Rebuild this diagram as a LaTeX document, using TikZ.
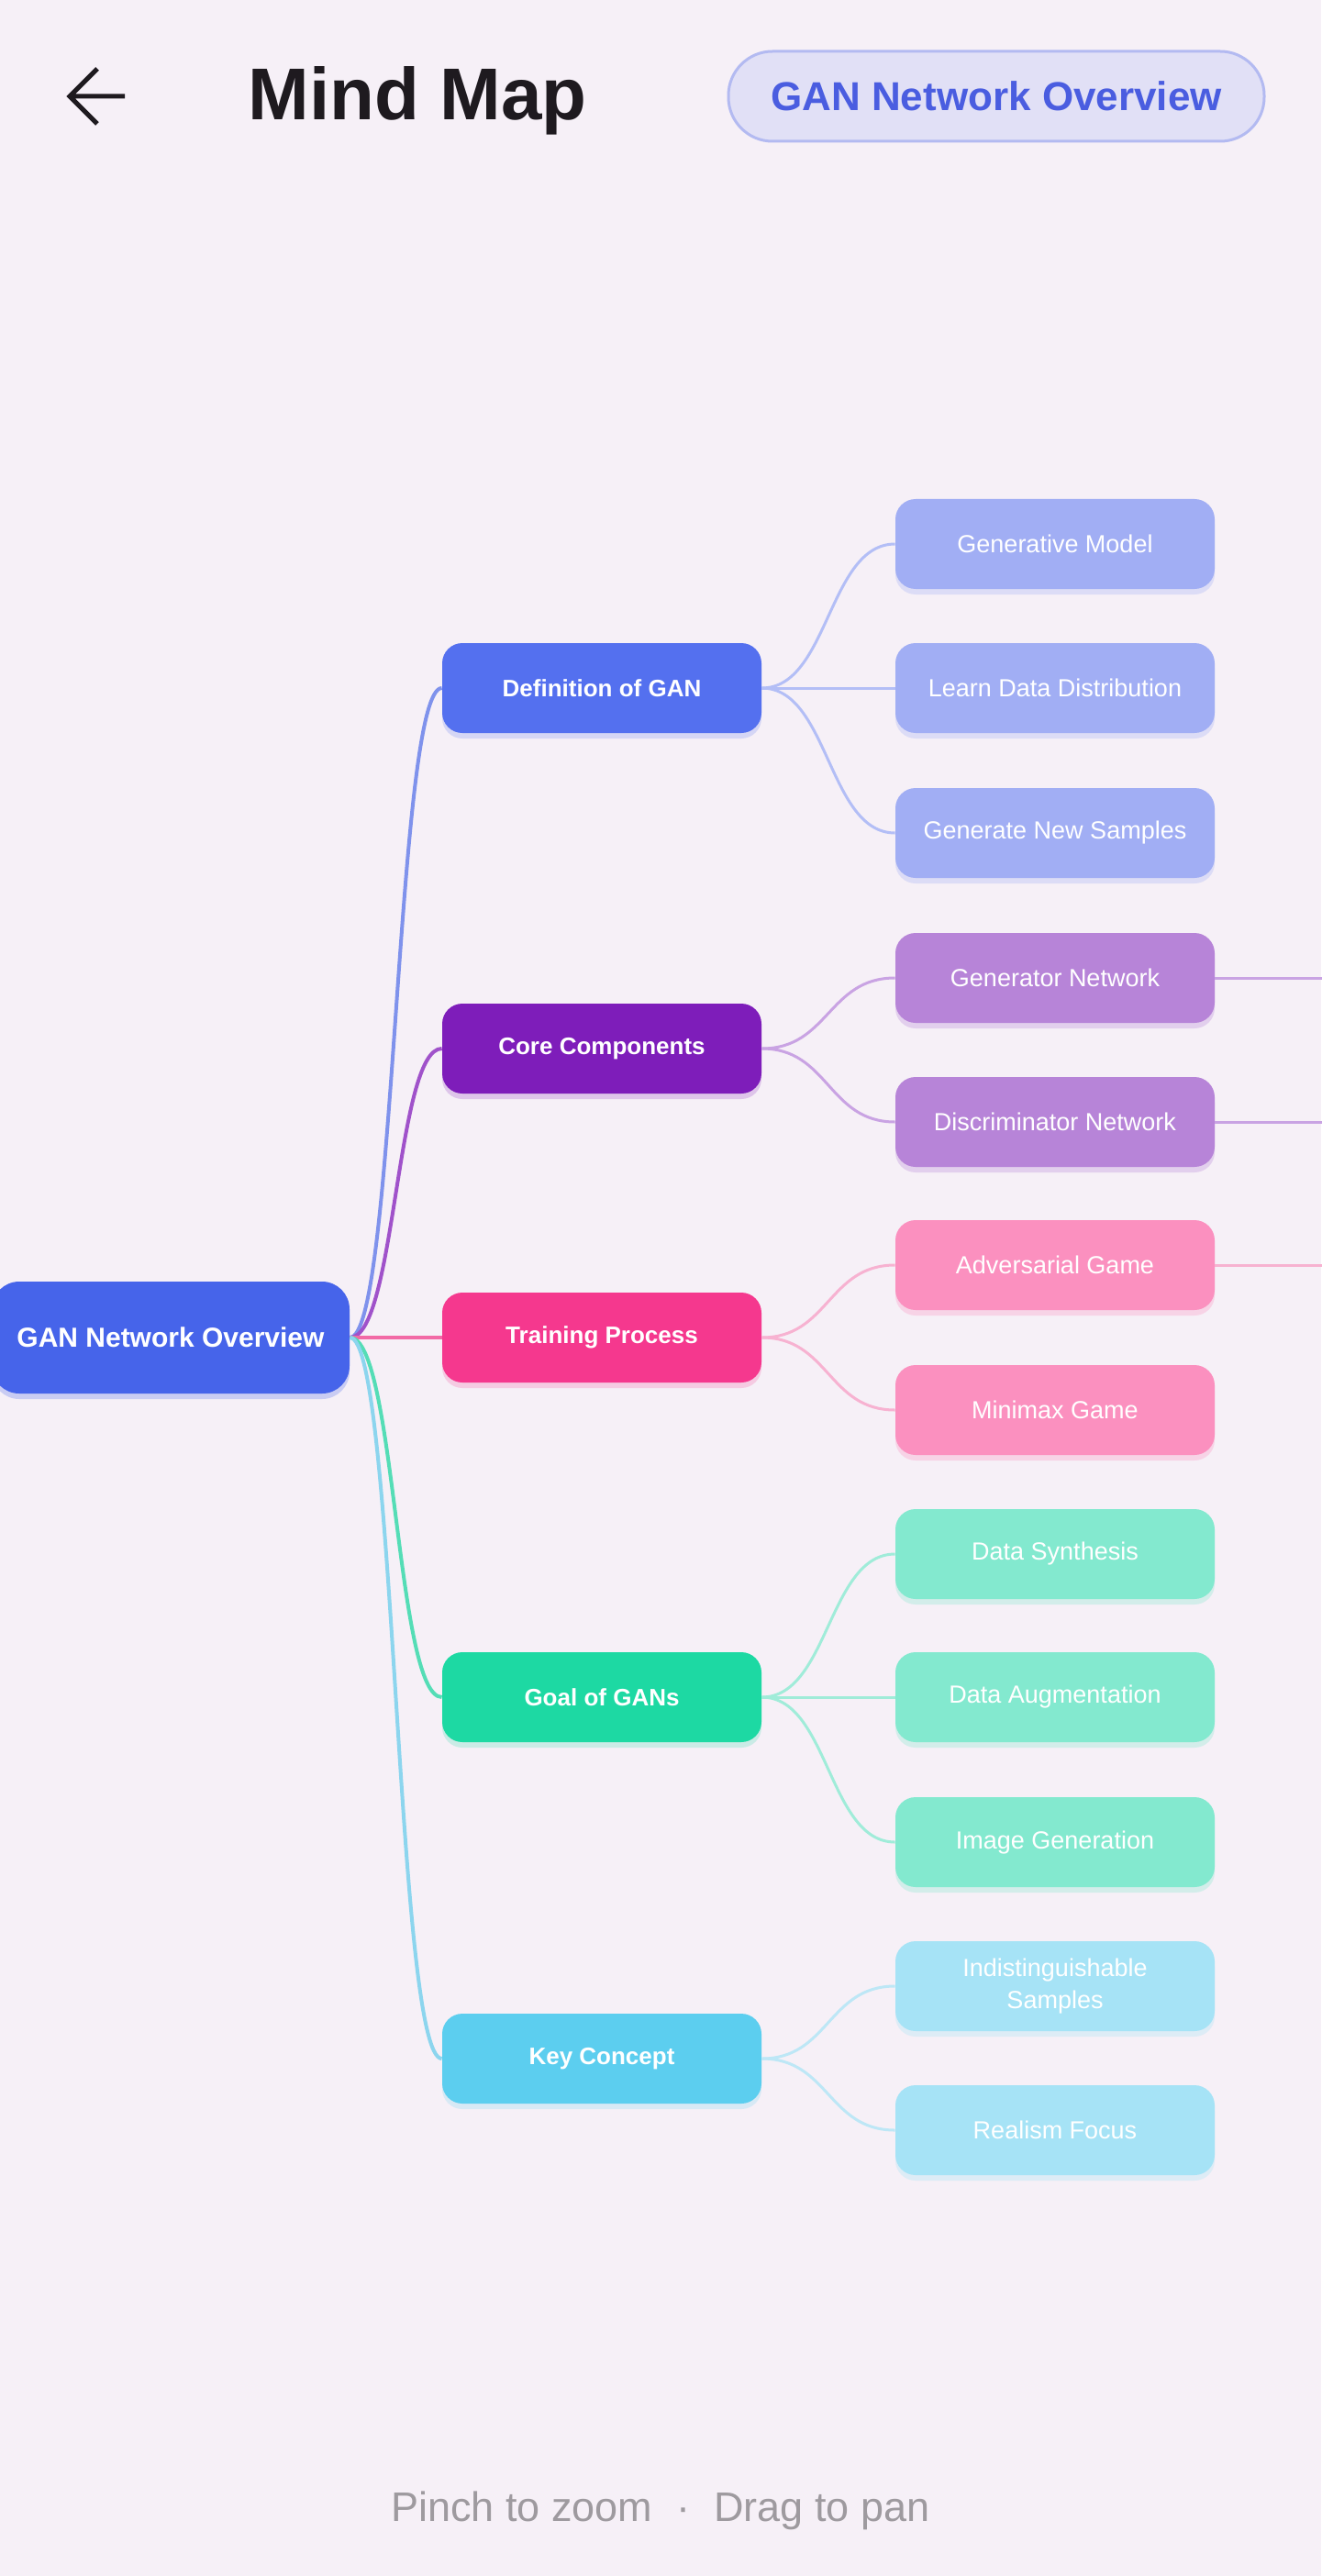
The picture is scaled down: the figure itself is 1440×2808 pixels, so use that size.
\documentclass[tikz,border=0pt]{standalone}
\usepackage{fontspec}
\setmainfont{Liberation Sans}
\usetikzlibrary{positioning,shadows}
\definecolor{mBg}{HTML}{F6F0F7}
\definecolor{mInk}{HTML}{1E1A1F}
\definecolor{mGray}{HTML}{9E9A9F}
\definecolor{mRoot}{HTML}{4664EA}
\definecolor{mPill}{HTML}{E1E0F6}
\definecolor{mPillLine}{HTML}{B3BAF1}
\definecolor{mPillText}{HTML}{4A5DE0}
% one colour set per branch: topic, leaf, root link, leaf link
\definecolor{topicdef}{HTML}{5470EF}
\definecolor{leafdef}{HTML}{A1AEF4}
\definecolor{linkdef}{HTML}{7F92EC}
\definecolor{twigdef}{HTML}{B3BEF6}
\definecolor{topiccore}{HTML}{7E1DBA}
\definecolor{leafcore}{HTML}{B784D8}
\definecolor{linkcore}{HTML}{A052CA}
\definecolor{twigcore}{HTML}{C9A3E3}
\definecolor{topictrain}{HTML}{F5388E}
\definecolor{leaftrain}{HTML}{FB90BF}
\definecolor{linktrain}{HTML}{F26AA6}
\definecolor{twigtrain}{HTML}{F7B2D1}
\definecolor{topicgoal}{HTML}{1DD9A3}
\definecolor{leafgoal}{HTML}{83E9CF}
\definecolor{linkgoal}{HTML}{55DDB6}
\definecolor{twiggoal}{HTML}{A0ECD9}
\definecolor{topickey}{HTML}{5CCEEF}
\definecolor{leafkey}{HTML}{A6E3F6}
\definecolor{linkkey}{HTML}{8CD5EE}
\definecolor{twigkey}{HTML}{BDE7F6}

\begin{document}
\begin{tikzpicture}[x=0.5pt,y=-0.5pt,
  rootbox/.style={fill=mRoot, rounded corners=15pt, minimum width=195pt, minimum height=61pt,
    inner sep=0pt, text=white, font=\bfseries\fontsize{15}{18}\selectfont,
    drop shadow={shadow xshift=0pt, shadow yshift=-3pt, fill=mRoot, opacity=.25}},
  topic/.style={fill=topic#1, rounded corners=11pt, minimum width=174pt, minimum height=49pt,
    inner sep=0pt, text=white, font=\bfseries\fontsize{13}{16}\selectfont,
    drop shadow={shadow xshift=0pt, shadow yshift=-3pt, fill=topic#1, opacity=.2}},
  leaf/.style={fill=leaf#1, rounded corners=11pt, minimum width=174pt, minimum height=49pt,
    inner sep=0pt, align=center, text=white, font=\fontsize{13.5}{17.5}\selectfont,
    drop shadow={shadow xshift=0pt, shadow yshift=-3pt, fill=leaf#1, opacity=.3}},
  link/.style={draw=link#1, line width=2pt},
  twig/.style={draw=twig#1, line width=1.5pt}]
  \fill[mBg] (0,0) rectangle (1440,2808);
  \useasboundingbox (0,0) rectangle (1440,2808);

  % top bar
  \draw[mInk, line width=2.5pt] (136,105) -- (78,105) (106,75) -- (76,105) -- (106,135);
  \node[mInk, anchor=base, font=\bfseries\fontsize{40}{48}\selectfont] (title) at (455,131) {Mind Map};
  \node[fill=mPill, draw=mPillLine, line width=1.5pt, rounded corners=24pt, minimum width=292pt,
    minimum height=49pt, text=mPillText, font=\bfseries\fontsize{22}{26}\selectfont] (pill) at (1086,105)
    {GAN Network Overview};

  \node[rootbox] (root) at (186,1458) {GAN Network Overview};
  \foreach \br/\y/\t in {def/750/Definition of GAN, core/1143/Core Components,
      train/1458/Training Process, goal/1850/Goal of GANs, key/2244/Key Concept}{
    \node[topic=\br] (\br) at (656,\y) {\t};
    \draw[link=\br] (root.east) .. controls +(50,0) and +(-50,0) .. (\br.west);
  }
  \foreach \n/\br/\y/\t in {gen/def/593/Generative Model, learn/def/750/Learn Data Distribution,
      sample/def/908/Generate New Samples, gnet/core/1066/Generator Network,
      dnet/core/1223/Discriminator Network, adv/train/1379/Adversarial Game,
      minimax/train/1537/Minimax Game, synth/goal/1694/Data Synthesis,
      augment/goal/1850/Data Augmentation, image/goal/2008/Image Generation,
      indist/key/2165/Indistinguishable\\Samples, realism/key/2322/Realism Focus}{
    \node[leaf=\br] (\n) at (1150,\y) {\t};
    \draw[twig=\br] (\br.east) .. controls +(73,0) and +(-73,0) .. (\n.west);
  }
  % branches that run on past the right edge
  \coordinate (gnetOut) at (1460,1066);
  \coordinate (dnetOut) at (1460,1223);
  \coordinate (advOut) at (1460,1379);
  \draw[twig=core] (gnet.east) -- (gnetOut);
  \draw[twig=core] (dnet.east) -- (dnetOut);
  \draw[twig=train] (adv.east) -- (advOut);

  \node[mGray, anchor=base, font=\fontsize{22.5}{27}\selectfont] (hint) at (720,2748)
    {Pinch to zoom\hspace{13pt}·\hspace{13pt}Drag to pan};
\end{tikzpicture}
\end{document}
